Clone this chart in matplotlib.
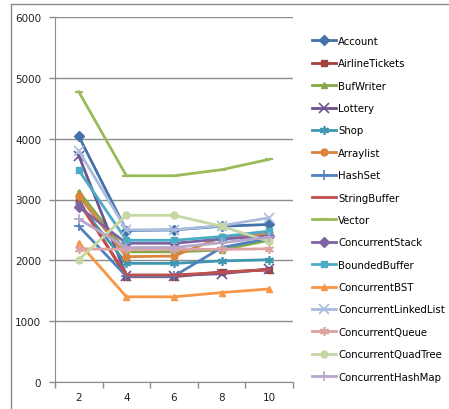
import numpy as np
import matplotlib
matplotlib.use("Agg")
import matplotlib.pyplot as plt
from matplotlib.lines import Line2D

# thread counts on the category axis
threads = ["2", "4", "6", "8", "10"]

names = [
    "Account", "AirlineTickets", "BufWriter", "Lottery", "Shop", "Arraylist",
    "HashSet", "StringBuffer", "Vector", "ConcurrentStack", "BoundedBuffer",
    "ConcurrentBST", "ConcurrentLinkedList", "ConcurrentQueue",
    "ConcurrentQuadTree", "ConcurrentHashMap",
]

account = [4040, 2490, 2500, 2560, 2590]
airline_tickets = [2980, 1730, 1730, 1810, 1840]
buf_writer = [3130, 2140, 2140, 2170, 2330]
lottery = [3720, 1750, 1750, 1780, 1860]
shop = [2930, 1950, 1950, 1990, 2010]
arraylist = [3060, 2060, 2070, 2380, 2450]
hash_set = [2560, 1740, 1740, 2210, 2360]
string_buffer = [2950, 1760, 1760, 1800, 1850]
vector = [4770, 3390, 3390, 3490, 3660]
concurrent_stack = [2880, 2280, 2280, 2350, 2400]
bounded_buffer = [3480, 2330, 2330, 2390, 2480]
concurrent_bst = [2290, 1400, 1400, 1470, 1530]
concurrent_linked_list = [3800, 2500, 2500, 2570, 2700]
concurrent_queue = [2190, 2180, 2180, 2180, 2190]
concurrent_quad_tree = [2010, 2740, 2740, 2560, 2310]
concurrent_hash_map = [2680, 2210, 2210, 2290, 2380]

series = [
    account, airline_tickets, buf_writer, lottery, shop, arraylist,
    hash_set, string_buffer, vector, concurrent_stack, bounded_buffer,
    concurrent_bst, concurrent_linked_list, concurrent_queue,
    concurrent_quad_tree, concurrent_hash_map,
]

ASTERISK = (6, 2, 0)
colors = [
    "#4471AA", "#A4403D", "#86A84A", "#6D5490", "#3F98B0", "#DA843C",
    "#4F81BD", "#C0504D", "#9BBB59", "#8064A2", "#4BACC6", "#F79646",
    "#A9BCDD", "#DDA3A2", "#C6D7A3", "#B7A7CA",
]
markers = [
    "D", "s", "^", "x", ASTERISK, "o",
    "+", None, "_", "D", "s", "^",
    "x", ASTERISK, "o", "+",
]

fig = plt.figure(figsize=(4.49, 4.10), dpi=100)
fig.patch.set_facecolor("white")

# thin chart-area border (left and top edges)
fig.add_artist(Line2D([11 / 449, 11 / 449], [0, 1 - 5 / 410],
                      transform=fig.transFigure, color="#8C8C8C", lw=1.0))
fig.add_artist(Line2D([11 / 449, 1], [1 - 5 / 410, 1 - 5 / 410],
                      transform=fig.transFigure, color="#8C8C8C", lw=1.0))

ax = fig.add_axes([55 / 449, 1 - 383 / 410, (293 - 55) / 449, (383 - 18) / 410])

x = np.arange(len(threads))
handles = []
for name, vals, c, m in zip(names, series, colors, markers):
    ms = 5.0
    mew = 1.0
    if m in ("x", "+", ASTERISK):
        ms, mew = 6.5, 1.2
    if m == "_":
        ms, mew = 6, 1.5
    h, = ax.plot(x, vals, color=c, lw=2.0, marker=m, markersize=ms,
                 markeredgewidth=mew, markeredgecolor=c, markerfacecolor=c,
                 label=name)
    handles.append(h)

ax.set_xlim(-0.5, len(threads) - 0.5)
ax.set_ylim(0, 6000)
ax.set_yticks(np.arange(0, 6001, 1000))
ax.set_xticks(x)
ax.set_xticklabels(threads)
ax.set_xticks(np.arange(-0.5, len(threads), 1.0), minor=True)
ax.tick_params(axis="x", which="major", length=0, pad=7, labelsize=7.5,
               colors="#222222")
ax.tick_params(axis="x", which="minor", length=4, color="#8C8C8C", width=1)
ax.tick_params(axis="y", length=4, color="#8C8C8C", width=1, labelsize=7.5,
               labelcolor="#222222", pad=6)
ax.grid(axis="y", color="#8C8C8C", lw=1.0)
ax.set_axisbelow(True)
for side in ("top", "right"):
    ax.spines[side].set_visible(False)
ax.spines["left"].set_color("#8C8C8C")
ax.spines["bottom"].set_color("#8C8C8C")

fig.legend(handles=handles, loc="upper left",
           bbox_to_anchor=(312 / 449, 1 - 37 / 410),
           frameon=False, fontsize=7.3, handlelength=2.4, handletextpad=0.2,
           labelspacing=1.22, borderaxespad=0, borderpad=0)

fig.savefig("out.png", dpi=100)
